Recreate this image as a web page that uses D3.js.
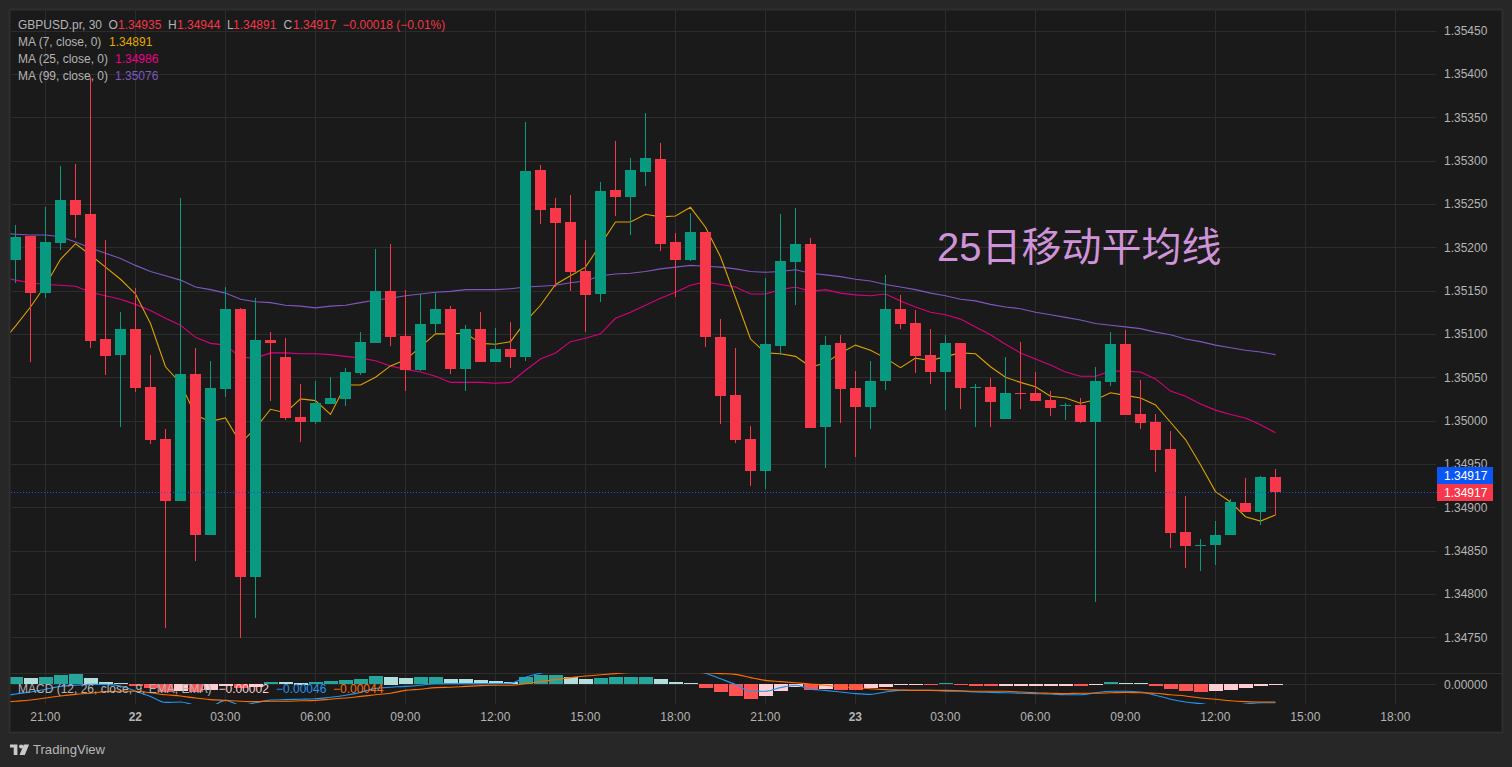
<!DOCTYPE html>
<html lang="zh"><head><meta charset="utf-8"><title>GBPUSD</title>
<script src="https://cdn.jsdelivr.net/npm/d3@7/dist/d3.min.js"></script>
<style>html,body{margin:0;padding:0;background:#272727;overflow:hidden}svg{display:block}
text{font-family:"Liberation Sans",Arial,sans-serif;font-size:12px}</style></head><body>
<svg id="c" width="1512" height="767"></svg>
<script>
const opens=[1.35185,1.35213,1.35147,1.35205,1.35254,1.35238,1.35094,1.35076,1.35106,1.35039,
1.34979,1.34907,1.35054,1.34868,1.35036,1.35129,1.34819,1.35093,1.35073,1.35004,
1.34998,1.35019,1.35025,1.35055,1.35089,1.35149,1.35097,1.35058,1.35111,1.35129,
1.35059,1.35106,1.35068,1.35082,1.35073,1.35289,1.35245,1.35229,1.35172,1.35146,
1.35266,1.35258,1.35287,1.35302,1.35206,1.35185,1.35217,1.35096,1.35029,1.34979,
1.34942,1.35086,1.35183,1.35204,1.34993,1.35089,1.35037,1.35016,1.35046,1.35129,
1.35112,1.35076,1.35056,1.35089,1.35037,1.35039,1.35002,1.35032,1.35032,1.35024,
1.35017,1.35018,1.34998,1.35044,1.35088,1.35007,1.34998,1.34967,1.34871,1.34855,
1.34856,1.34868,1.34905,1.34894,1.34935];
const highs=[1.35226,1.35213,1.35246,1.35294,1.35296,1.35396,1.35208,1.35125,1.35153,1.35076,
1.34990,1.35257,1.35084,1.35069,1.35154,1.35130,1.35141,1.35102,1.35095,1.35042,
1.35046,1.35050,1.35061,1.35102,1.35198,1.35204,1.35151,1.35146,1.35147,1.35132,
1.35110,1.35125,1.35107,1.35114,1.35344,1.35295,1.35257,1.35260,1.35208,1.35275,
1.35322,1.35303,1.35355,1.35320,1.35216,1.35239,1.35217,1.35117,1.35084,1.34994,
1.35164,1.35238,1.35245,1.35211,1.35097,1.35099,1.35057,1.35069,1.35168,1.35145,
1.35127,1.35106,1.35099,1.35089,1.35042,1.35049,1.35073,1.35091,1.35056,1.35034,
1.35020,1.35026,1.35062,1.35102,1.35104,1.35047,1.35007,1.34988,1.34913,1.34863,
1.34884,1.34909,1.34934,1.34936,1.34944];
const lows=[1.35159,1.35068,1.35141,1.35197,1.35211,1.35084,1.35052,1.34993,1.35033,1.34973,
1.34761,1.34907,1.34838,1.34868,1.35027,1.34749,1.34772,1.35023,1.35001,1.34975,
1.34996,1.35019,1.35017,1.35052,1.35089,1.35086,1.35034,1.35057,1.35101,1.35054,
1.35034,1.35068,1.35068,1.35061,1.35069,1.35227,1.35154,1.35149,1.35102,1.35137,
1.35236,1.35214,1.35271,1.35196,1.35142,1.35184,1.35085,1.34996,1.34974,1.34924,
1.34921,1.35076,1.35133,1.34991,1.34945,1.34997,1.34958,1.34990,1.35035,1.35106,
1.35055,1.35042,1.35012,1.35013,1.34993,1.34993,1.35002,1.35013,1.35022,1.35005,
1.35001,1.34997,1.34791,1.35040,1.35006,1.34990,1.34941,1.34853,1.34830,1.34826,
1.34833,1.34868,1.34894,1.34879,1.34891];
const closes=[1.35212,1.35147,1.35206,1.35254,1.35237,1.35092,1.35074,1.35106,1.35037,1.34978,
1.34907,1.35054,1.34868,1.35037,1.35129,1.34819,1.35093,1.35089,1.35003,1.34998,
1.35020,1.35026,1.35056,1.35091,1.35149,1.35096,1.35058,1.35111,1.35129,1.35059,
1.35106,1.35068,1.35082,1.35073,1.35288,1.35243,1.35228,1.35171,1.35145,1.35265,
1.35258,1.35289,1.35303,1.35204,1.35185,1.35217,1.35096,1.35028,1.34978,1.34942,
1.35088,1.35184,1.35204,1.34991,1.35087,1.35036,1.35016,1.35046,1.35129,1.35111,
1.35074,1.35056,1.35089,1.35037,1.35039,1.35021,1.35032,1.35031,1.35022,1.35014,
1.35018,1.34998,1.35046,1.35088,1.35006,1.34997,1.34966,1.34870,1.34855,1.34856,
1.34868,1.34906,1.34894,1.34935,1.34917];

// moving averages; the first value belongs to the half-hour bar just left of the pane
const ma7=[1.35088,1.35109,1.35131,1.35156,1.35186,1.35204,1.35191,1.35177,1.35163,1.35146,
1.35112,1.35062,1.35043,1.35006,1.34999,1.35003,1.34974,1.34991,1.35013,1.35009,
1.35025,1.35023,1.35007,1.35041,1.35041,1.35050,1.35063,1.35070,1.35085,1.35100,
1.35100,1.35101,1.35089,1.35088,1.35091,1.35114,1.35133,1.35157,1.35167,1.35177,
1.35203,1.35229,1.35229,1.35238,1.35235,1.35236,1.35246,1.35223,1.35189,1.35142,
1.35094,1.35078,1.35077,1.35074,1.35062,1.35066,1.35078,1.35087,1.35081,1.35072,
1.35061,1.35072,1.35069,1.35074,1.35078,1.35077,1.35062,1.35050,1.35044,1.35039,
1.35028,1.35026,1.35020,1.35024,1.35032,1.35029,1.35026,1.35018,1.34998,1.34978,
1.34949,1.34918,1.34906,1.34889,1.34884,1.34891];
const ma25=[1.35166,1.35162,1.35159,1.35157,1.35156,1.35155,1.35148,1.35144,1.35140,1.35134,
1.35127,1.35118,1.35110,1.35096,1.35089,1.35087,1.35073,1.35072,1.35078,1.35078,
1.35077,1.35077,1.35076,1.35074,1.35072,1.35069,1.35063,1.35059,1.35056,1.35051,
1.35044,1.35044,1.35044,1.35043,1.35044,1.35058,1.35071,1.35078,1.35091,1.35095,
1.35100,1.35118,1.35125,1.35133,1.35141,1.35148,1.35156,1.35160,1.35157,1.35154,
1.35146,1.35146,1.35151,1.35154,1.35149,1.35151,1.35147,1.35145,1.35144,1.35146,
1.35138,1.35131,1.35125,1.35122,1.35117,1.35108,1.35099,1.35088,1.35078,1.35071,
1.35064,1.35056,1.35051,1.35051,1.35057,1.35057,1.35056,1.35048,1.35034,1.35028,
1.35019,1.35012,1.35007,1.35003,1.34995,1.34986];
const ma99=[1.35216,1.35215,1.35214,1.35214,1.35212,1.35206,1.35199,1.35193,1.35187,1.35179,
1.35172,1.35167,1.35162,1.35154,1.35151,1.35147,1.35140,1.35137,1.35136,1.35133,
1.35132,1.35130,1.35132,1.35133,1.35136,1.35139,1.35141,1.35144,1.35146,1.35148,
1.35149,1.35151,1.35151,1.35151,1.35152,1.35154,1.35155,1.35156,1.35159,1.35161,
1.35167,1.35169,1.35170,1.35172,1.35175,1.35177,1.35179,1.35178,1.35177,1.35175,
1.35172,1.35171,1.35172,1.35174,1.35170,1.35168,1.35166,1.35163,1.35161,1.35157,
1.35154,1.35151,1.35147,1.35144,1.35140,1.35138,1.35134,1.35131,1.35129,1.35125,
1.35122,1.35119,1.35116,1.35112,1.35110,1.35108,1.35106,1.35102,1.35099,1.35094,
1.35091,1.35087,1.35084,1.35081,1.35079,1.35076];

const macdHist=[0.000175,0.00015,0.000175,0.000225,0.00025,0.00015,0.00005,0.000025,-0.00005,-0.00011,
-0.0002,-0.000175,-0.00021,-0.00015,-0.00006,-0.0001,-0.000075,0.00005,0.000048,0.000045,
0.000055,0.000075,0.0001,0.000125,0.0002,0.000195,0.00015,0.000175,0.000176,0.00013,
0.000125,0.0001,0.000075,0.00005,0.000175,0.000225,0.000226,0.000175,0.000125,0.00015,
0.000175,0.000176,0.000177,0.000125,0.00005,0.000025,-0.0001,-0.0002,-0.0003,-0.000375,
-0.0003,-0.000175,-0.000075,-0.00015,-0.000125,-0.00015,-0.000151,-0.0001,-0.000075,-0.000025,
-0.000024,-0.000025,0.000025,-0.000025,-0.00005,-0.000051,-0.00005,-0.000049,-0.000048,-0.000047,
-0.000046,-0.00005,-0.000025,0.00005,0.000025,0.000024,-0.00005,-0.000125,-0.000175,-0.0002,
-0.000175,-0.00015,-0.0001,-0.00005,-0.00002];
const macdLine=[-0.00030,-0.00024,-0.00019,-0.00012,-0.00005,-0.00002,0,0,-0.00004,-0.00017,
-0.00030,-0.00045,-0.00044,-0.00052,-0.00054,-0.00040,-0.00052,-0.00046,-0.00039,-0.00038,
-0.00037,-0.00036,-0.00032,-0.00027,-0.00020,-0.00010,-0.00007,-0.00005,-0.00002,0.00002,
0.00002,0.00002,0.00002,0.00002,0.00003,0.00018,0.00028,0.00035,0.00039,0.00042,
0.00043,0.00045,0.00047,0.00047,0.00045,0.00042,0.00037,0.00028,0.00014,0,
-0.00017,-0.00017,-0.00008,-0.00002,-0.00012,-0.00015,-0.00019,-0.00023,-0.00025,-0.00019,
-0.00015,-0.00015,-0.00015,-0.00017,-0.00017,-0.00019,-0.00020,-0.00021,-0.00022,-0.00023,
-0.00024,-0.00026,-0.00026,-0.00021,-0.00017,-0.00017,-0.00019,-0.00027,-0.00037,-0.00044,
-0.00048,-0.00052,-0.00052,-0.00049,-0.00046,-0.00046];
const macdSignal=[-0.00045,-0.00042,-0.00039,-0.00034,-0.00029,-0.00025,-0.00022,-0.00018,-0.00017,-0.00017,
-0.00021,-0.00026,-0.00029,-0.00034,-0.00038,-0.00040,-0.00042,-0.00043,-0.00042,-0.00042,
-0.00041,-0.00040,-0.00037,-0.00034,-0.00030,-0.00026,-0.00022,-0.00015,-0.00012,-0.00008,
-0.00007,-0.00005,-0.00003,-0.00002,-0.00002,0.00002,0.00007,0.00012,0.00017,0.00021,
0.00024,0.00027,0.00030,0.00032,0.00032,0.00032,0.00031,0.00029,0.00027,0.00025,
0.00017,0.00010,0.00007,0.00004,0.00001,-0.00002,-0.00006,-0.00008,-0.00011,-0.00013,
-0.00014,-0.00015,-0.00015,-0.00015,-0.00016,-0.00017,-0.00017,-0.00017,-0.00019,-0.00021,
-0.00022,-0.00023,-0.00022,-0.00022,-0.00021,-0.00020,-0.00021,-0.00022,-0.00026,-0.00029,
-0.00034,-0.00037,-0.00041,-0.00043,-0.00044,-0.00044];

const priceTicks=[1.3545,1.354,1.3535,1.353,1.3525,1.352,1.3515,1.351,1.3505,1.35,1.3495,1.349,1.3485,1.348,1.3475];
const timeTickBarsShown=[2,8,14,20,26,32,38,44,50,56,62,68,74,80,86,92];
const timeLabels=["21:00","22","03:00","06:00","09:00","12:00","15:00","18:00","21:00","23","03:00","06:00","09:00","12:00","15:00","18:00"];
const lastPrice=1.34917;

const C={bg:"#272727",plot:"#1a1a1a",frame:"#2e2e2e",grid:"#2c2c2c",text:"#b4b4b4",up:"#089981",down:"#f7374a",
 ma7:"#dfa000",ma25:"#d9007f",ma99:"#7e57c2",mLine:"#2196f3",mSig:"#ff6d00",hUp:"#26a69a",hUpL:"#b2dfdb",hDn:"#ff5252",hDnL:"#ffcdd2"};

const svg=d3.select("#c");
const L=10.5,R=1436,T=10,B=731,macdTop=673,macdBot=704;
const x=d3.scaleLinear().domain([0,84]).range([15.5,1275.5]);
const y=d3.scaleLinear().domain([1.3475,1.3545]).range([637.2,30.5]);
const yM=d3.scaleLinear().domain([-0.0005,0.0005]).range([704.4,664.4]);

svg.append("rect").attr("x",9.5).attr("y",9.5).attr("width",1493).attr("height",723)
  .attr("fill",C.plot).attr("stroke",C.frame).attr("stroke-width",2);

const defs=svg.append("defs");
defs.append("clipPath").attr("id","pP").append("rect").attr("x",L).attr("y",T).attr("width",R-L).attr("height",macdTop-T);
defs.append("clipPath").attr("id","pM").append("rect").attr("x",L).attr("y",macdTop).attr("width",R-L).attr("height",macdBot-macdTop);

// grid
const g=svg.append("g").attr("shape-rendering","crispEdges").attr("stroke",C.grid);
g.selectAll(".v").data(timeTickBarsShown).join("line").attr("x1",d=>x(d)).attr("x2",d=>x(d)).attr("y1",T).attr("y2",macdBot);
g.selectAll(".h").data(priceTicks).join("line").attr("x1",L).attr("x2",R).attr("y1",d=>Math.round(y(d))+.5).attr("y2",d=>Math.round(y(d))+.5);
g.append("line").attr("x1",L).attr("x2",1502).attr("y1",673.5).attr("y2",673.5).attr("stroke","#2e2e2e");
g.append("line").attr("x1",L).attr("x2",R).attr("y1",684.5).attr("y2",684.5);

// price pane
const pane=svg.append("g").attr("clip-path","url(#pP)");
const maPath=d3.line().x((d,i)=>x(i-1)).y(d=>y(d));
[[ma99,C.ma99],[ma25,C.ma25],[ma7,C.ma7]].forEach(([s,c])=>pane.append("path").attr("d",maPath(s)).attr("fill","none").attr("stroke",c).attr("stroke-width",1.1));

const bars=d3.range(opens.length);
const col=i=>closes[i]>opens[i]?C.up:C.down;
const cg=pane.append("g").attr("shape-rendering","crispEdges");
cg.selectAll(".w").data(bars).join("rect").attr("x",i=>x(i)-.5).attr("width",1)
  .attr("y",i=>Math.round(y(highs[i]))).attr("height",i=>Math.max(1,Math.round(y(lows[i]))-Math.round(y(highs[i])))).attr("fill",col);
cg.selectAll(".b").data(bars).join("rect").attr("x",i=>x(i)-5.5).attr("width",11)
  .attr("y",i=>Math.round(y(Math.max(opens[i],closes[i]))))
  .attr("height",i=>Math.max(1,Math.round(y(Math.min(opens[i],closes[i])))-Math.round(y(Math.max(opens[i],closes[i])))))
  .attr("fill",col);

// last price line
svg.append("line").attr("x1",L).attr("x2",1437).attr("y1",Math.round(y(lastPrice))+.5).attr("y2",Math.round(y(lastPrice))+.5)
  .attr("stroke","#1c55e6").attr("stroke-dasharray","1 2").attr("shape-rendering","crispEdges");

// annotation
svg.append("text").attr("x",937).attr("y",261).attr("fill","#ce93d8")
  .style("font-family",'"Liberation Sans","Noto Sans CJK SC",sans-serif').style("font-size","40px").text("25日移动平均线");

// MACD pane
const mp=svg.append("g").attr("clip-path","url(#pM)");
const histCol=i=>{const v=macdHist[i],p=i?macdHist[i-1]:-1;return v>=0?(v>p?C.hUp:C.hUpL):(v<p?C.hDn:C.hDnL)};
mp.append("g").attr("shape-rendering","crispEdges").selectAll("rect").data(bars).join("rect")
  .attr("x",i=>x(i)-7).attr("width",14)
  .attr("y",i=>Math.round(Math.min(yM(macdHist[i]),yM(0))))
  .attr("height",i=>Math.max(1,Math.round(Math.abs(yM(macdHist[i])-yM(0)))))
  .attr("fill",histCol);
const mPath=d3.line().x((d,i)=>x(i-1)).y(d=>yM(d)).curve(d3.curveMonotoneX);
mp.append("path").attr("d",mPath(macdLine)).attr("fill","none").attr("stroke",C.mLine).attr("stroke-width",1.1);
mp.append("path").attr("d",mPath(macdSignal)).attr("fill","none").attr("stroke",C.mSig).attr("stroke-width",1.1);

// axes
const yAxis=d3.axisRight(y).tickValues(priceTicks).tickFormat(d3.format(".5f")).tickSize(0).tickPadding(0);
const ya=svg.append("g").attr("transform","translate(1444,0)").call(yAxis);
ya.select(".domain").remove();
ya.selectAll("text").attr("fill",C.text);
const yMAxis=d3.axisRight(yM).tickValues([0]).tickFormat(d3.format(".5f")).tickSize(0).tickPadding(0);
const ym=svg.append("g").attr("transform","translate(1444,0)").call(yMAxis);
ym.select(".domain").remove();
ym.selectAll("text").attr("fill",C.text);
const xAxis=d3.axisBottom(x).tickValues(timeTickBarsShown).tickFormat((d,i)=>timeLabels[i]).tickSize(0).tickPadding(0);
const xa=svg.append("g").attr("transform","translate(-0.7,712)").call(xAxis);
xa.select(".domain").remove();
xa.selectAll("text").attr("fill",C.text).attr("y",0).attr("dy",".71em").style("font-weight",(d,i)=>/:/.test(timeLabels[i])?"normal":"bold");

// price tags
[[467,"#0b57f5"],[484,"#f7374a"]].forEach(([ty,c])=>{
  svg.append("rect").attr("x",1437).attr("y",ty).attr("width",56).attr("height",17).attr("fill",c);
  svg.append("text").attr("x",1444).attr("y",ty+13).attr("fill","#fff").text(d3.format(".5f")(lastPrice));
});

// legends
const tx=(s,px,py,c)=>svg.append("text").attr("x",px).attr("y",py).attr("fill",c).text(s);
const red="#f23645";
tx("GBPUSD.pr, 30",18,29,C.text);
tx("O",108.5,29,C.text);tx("1.34935",118,29,red);
tx("H",168,29,C.text);tx("1.34944",177,29,red);
tx("L",227,29,C.text);tx("1.34891",233,29,red);
tx("C",283.5,29,C.text);tx("1.34917",293,29,red);
tx("−0.00018 (−0.01%)",342.5,29,red);
tx("MA (7, close, 0)",18,46,C.text);tx("1.34891",109,46,"#e3a800");
tx("MA (25, close, 0)",18,63,C.text);tx("1.34986",115,63,"#ec008c");
tx("MA (99, close, 0)",18,80,C.text);tx("1.35076",115,80,"#7e57c2");
tx("MACD (12, 26, close, 9, EMA, EMA)",18,693,C.text);
tx("−0.00002",218.5,693,C.hDnL);tx("−0.00046",276,693,C.mLine);tx("−0.00044",333,693,C.mSig);

// brand
const logo=svg.append("g").attr("transform","translate(10,741.2) scale(.53)").attr("fill","#c9c9c9");
logo.append("path").attr("d","M14 6H0v6h7v14h7V6zM28 26H18l8-20h10l-8 20z");
logo.append("circle").attr("cx",21).attr("cy",10).attr("r",4);
svg.append("text").attr("x",33).attr("y",754).attr("fill","#b8b8b8").style("font-size","13.1px").text("TradingView");
</script></body></html>
